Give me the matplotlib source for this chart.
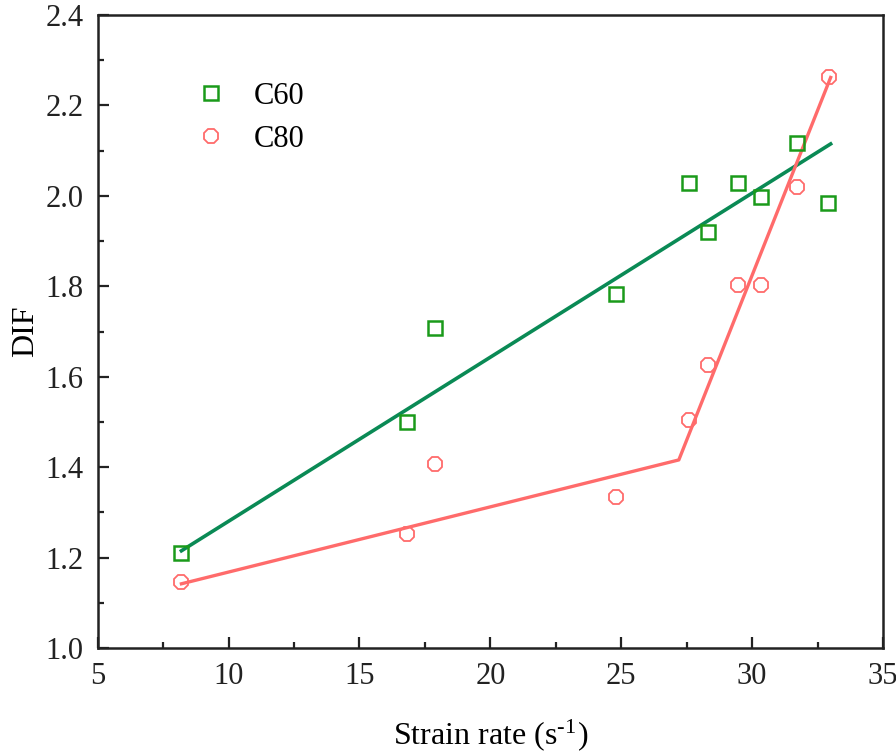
import matplotlib
matplotlib.use("Agg")
import matplotlib.pyplot as plt
from matplotlib.ticker import MultipleLocator, FormatStrFormatter

plt.rcParams['font.family'] = ['Liberation Serif', 'DejaVu Serif']
plt.rcParams['mathtext.fontset'] = 'stix'

# measured points
c60_x = [8.2, 16.8, 17.9, 24.8, 27.6, 28.3, 29.45, 30.35, 31.7, 32.9]
c60_y = [1.21, 1.50, 1.708, 1.783, 2.029, 1.92, 2.029, 1.998, 2.117, 1.985]
c80_x = [8.2, 16.8, 17.9, 24.8, 27.6, 28.3, 29.45, 30.35, 31.7, 32.95]
c80_y = [1.146, 1.252, 1.407, 1.334, 1.504, 1.626, 1.803, 1.803, 2.02, 2.263]

# fitted lines
c60_fit_x = [8.2, 33.0]
c60_fit_y = [1.215, 2.115]
c80_fit_x = [8.2, 27.2, 33.0]
c80_fit_y = [1.142, 1.416, 2.262]

green_line = '#0a8a55'
green_mark = '#1a9a1a'
red = '#ff6b6b'

fig = plt.figure(figsize=(8.96, 7.54), dpi=100)
ax = fig.add_axes([0.109, 0.1406, 0.8765, 0.8394])

ax.plot(c60_fit_x, c60_fit_y, color=green_line, lw=2.6, zorder=2)
ax.plot(c80_fit_x, c80_fit_y, color=red, lw=2.4, zorder=2)
ax.plot(c60_x, c60_y, ls='none', marker='s', ms=10, mfc='none', mec=green_mark,
        mew=1.8, label='C60', zorder=3)
ax.plot(c80_x, c80_y, ls='none', marker='8', ms=11, mfc='none', mec=red,
        mew=1.3, label='C80', zorder=3)

ax.set_xlim(5, 35)
ax.set_ylim(1.0, 2.4)
ax.xaxis.set_major_locator(MultipleLocator(5))
ax.xaxis.set_minor_locator(MultipleLocator(2.5))
ax.yaxis.set_major_locator(MultipleLocator(0.2))
ax.yaxis.set_minor_locator(MultipleLocator(0.1))
ax.yaxis.set_major_formatter(FormatStrFormatter('%.1f'))
ax.tick_params(which='both', direction='in', top=False, right=False,
               width=1.6, labelsize=22, colors='#222222')
ax.tick_params(which='major', length=8, pad=10)
ax.tick_params(which='minor', length=4)
for s in ax.spines.values():
    s.set_linewidth(1.8)
    s.set_color('#222222')

ax.set_xlabel('Strain rate (s$^{\\mathregular{\u2010}\\mathregular{1}}$)', fontsize=23, labelpad=19)
ax.set_ylabel('DIF', fontsize=23, labelpad=4)

ax.legend(loc='upper left', bbox_to_anchor=(0.09, 0.938), frameon=False,
          fontsize=22, handletextpad=0.9, labelspacing=0.45, handlelength=1.0)

fig.savefig('out.png', dpi=100)
